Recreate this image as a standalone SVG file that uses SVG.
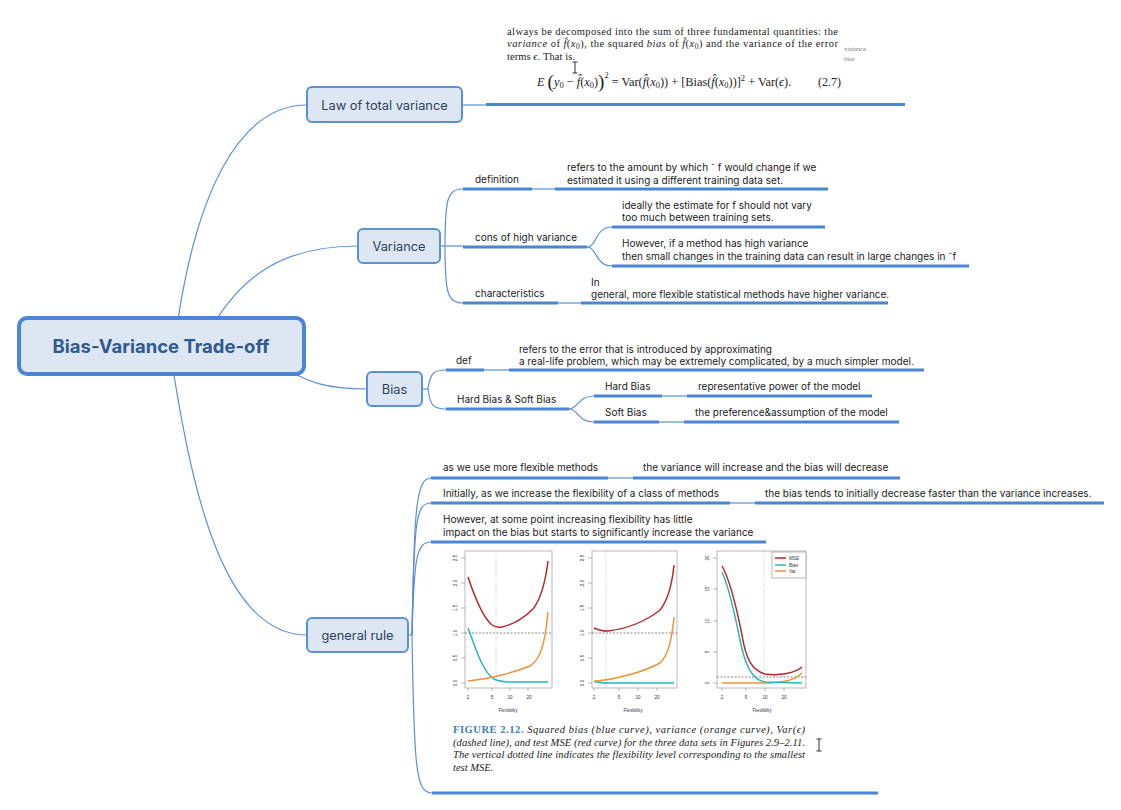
<svg xmlns="http://www.w3.org/2000/svg" width="1121" height="810" viewBox="0 0 1121 810">
<style>
.ln{fill:none;stroke:#5b8fd6;stroke-width:1.2}
.ul{stroke:#4a86d4;stroke-width:3}
.nd{fill:#dde7f3;stroke:#5b8fd6;stroke-width:2}
.nt{font-family:Inter,"Noto Sans",sans-serif;font-size:12.8px;fill:#2d3f5e;text-anchor:middle}
.t{font-family:Inter,"Liberation Sans",sans-serif;font-size:10px;fill:#1a1a1a}
.s{font-family:"Liberation Serif",serif;font-size:10.5px;fill:#222}
.i{font-style:italic}
.ax{fill:none;stroke:#9a9a9a;stroke-width:0.7}
.tk{font-family:"Liberation Sans",sans-serif;font-size:4.6px;fill:#333}
.gr{fill:none;stroke:#aaa;stroke-width:0.6;stroke-dasharray:1 1.2}
.dh{fill:none;stroke:#555;stroke-width:0.7;stroke-dasharray:2 1.5}
.mse{fill:none;stroke:#b5272d;stroke-width:1.5}
.bias{fill:none;stroke:#2ab5b8;stroke-width:1.5}
.var{fill:none;stroke:#f0913a;stroke-width:1.5}
.cur{fill:none;stroke:#333;stroke-width:1}
</style>
<g id="connectors">
<path class="ln" d="M175,340 C195,190 240,105 307,105"/>
<path class="ln" d="M205,340 C240,270 290,246 358,246"/>
<path class="ln" d="M270,360 C310,385 330,389 367,389"/>
<path class="ln" d="M170,350 C190,480 220,635 307,635"/>
<path class="ln" d="M462,105 H486"/>
<path class="ln" d="M440,246 H463"/>
<path class="ln" d="M445,246 C445,200 447,189 463,189"/>
<path class="ln" d="M445,246 C445,292 447,303 463,303"/>
<path class="ln" d="M532,189 H555"/>
<path class="ln" d="M587,247 C597,247 595,227 612,227"/>
<path class="ln" d="M587,247 C597,247 595,266 612,266"/>
<path class="ln" d="M558,303 H581"/>
<path class="ln" d="M422,389 H428"/>
<path class="ln" d="M428,389 C430,373 434,370 446,370"/>
<path class="ln" d="M428,389 C430,406 434,409 446,409"/>
<path class="ln" d="M484,370 H509"/>
<path class="ln" d="M569,409 C578,409 578,396 594,396"/>
<path class="ln" d="M569,409 C578,409 578,422 594,422"/>
<path class="ln" d="M662,396 H687"/>
<path class="ln" d="M659,422 H684"/>
<path class="ln" d="M408,635 H412"/>
<path class="ln" d="M412,635 C414,510 416,478 431,478"/>
<path class="ln" d="M412,635 C414,520 416,503 431,503"/>
<path class="ln" d="M412,635 C414,560 416,542 431,542"/>
<path class="ln" d="M412,635 C414,770 416,793 432,793"/>
<path class="ln" d="M608,478 H633"/>
<path class="ln" d="M730,503 H755"/>
</g>
<g id="root">
<rect x="19" y="318" width="285" height="56" rx="8" fill="#dde7f3" stroke="#4a86d4" stroke-width="4"/>
<text x="161" y="353" font-family="Inter,'Noto Sans',sans-serif" font-size="18.5" font-weight="bold" fill="#2f5a8f" text-anchor="middle">Bias-Variance Trade-off</text>
</g>
<g id="law">
<rect class="nd" x="307" y="87" width="155" height="35" rx="5"/>
<text class="nt" x="384.5" y="109.5">Law of total variance</text>
</g>
<g id="law-detail">
<line class="ul" x1="486" y1="104.5" x2="905" y2="104.5"/>
<text class="s" x="507" y="34.5" textLength="331" lengthAdjust="spacing">always be decomposed into the sum of three fundamental quantities: the</text>
<text class="s" x="507" y="47" textLength="331" lengthAdjust="spacing"><tspan class="i">variance</tspan> of <tspan class="i">f̂</tspan>(<tspan class="i">x</tspan><tspan font-size="7.5" baseline-shift="-2">0</tspan>), the squared <tspan class="i">bias</tspan> of <tspan class="i">f̂</tspan>(<tspan class="i">x</tspan><tspan font-size="7.5" baseline-shift="-2">0</tspan>) and the variance of the error</text>
<text class="s" x="507" y="59.5" textLength="68" lengthAdjust="spacing">terms <tspan class="i">ϵ</tspan>. That is.</text>
<text x="844" y="51" font-family="Liberation Serif,serif" font-size="6.5" fill="#777">variance</text>
<text x="844" y="61" font-family="Liberation Serif,serif" font-size="6.5" fill="#777">bias</text>
<path class="cur" d="M572.5,62 h5 M575,62 v11 M572.5,73 h5"/>
<text class="s" x="537" y="86" style="font-size:12.3px"><tspan class="i">E</tspan> <tspan font-size="19" baseline-shift="-2">(</tspan><tspan class="i">y</tspan><tspan font-size="8.5" baseline-shift="-2">0</tspan> − <tspan class="i">f̂</tspan>(<tspan class="i">x</tspan><tspan font-size="8.5" baseline-shift="-2">0</tspan>)<tspan font-size="19" baseline-shift="-2">)</tspan><tspan font-size="8.5" baseline-shift="8">2</tspan> = Var(<tspan class="i">f̂</tspan>(<tspan class="i">x</tspan><tspan font-size="8.5" baseline-shift="-2">0</tspan>)) + [Bias(<tspan class="i">f̂</tspan>(<tspan class="i">x</tspan><tspan font-size="8.5" baseline-shift="-2">0</tspan>))]<tspan font-size="8.5" baseline-shift="5">2</tspan> + Var(<tspan class="i">ϵ</tspan>).</text>
<text class="s" x="818" y="86" style="font-size:12px">(2.7)</text>
</g>
<g id="variance">
<rect class="nd" x="358" y="229" width="82" height="34" rx="5"/>
<text class="nt" x="399" y="251">Variance</text>
</g>
<g id="var-definition">
<line class="ul" x1="463" y1="189" x2="532" y2="189"/>
<text class="t" x="475" y="183">definition</text>
</g>
<g id="var-definition-text">
<line class="ul" x1="555" y1="189" x2="828" y2="189"/>
<text class="t" x="567" y="171">refers to the amount by which ˆ f would change if we</text>
<text class="t" x="567" y="183.5">estimated it using a different training data set.</text>
</g>
<g id="var-cons">
<line class="ul" x1="463" y1="247" x2="587" y2="247"/>
<text class="t" x="475" y="241">cons of high variance</text>
</g>
<g id="var-cons-1">
<line class="ul" x1="612" y1="227" x2="825" y2="227"/>
<text class="t" x="622" y="209">ideally the estimate for f should not vary</text>
<text class="t" x="622" y="221">too much between training sets.</text>
</g>
<g id="var-cons-2">
<line class="ul" x1="612" y1="266" x2="969" y2="266"/>
<text class="t" x="622" y="247">However, if a method has high variance</text>
<text class="t" x="622" y="259.5">then small changes in the training data can result in large changes in ˆf</text>
</g>
<g id="var-char">
<line class="ul" x1="463" y1="303" x2="558" y2="303"/>
<text class="t" x="475" y="297">characteristics</text>
</g>
<g id="var-char-text">
<line class="ul" x1="581" y1="303" x2="888" y2="303"/>
<text class="t" x="591" y="285.5">In</text>
<text class="t" x="591" y="297.5">general, more flexible statistical methods have higher variance.</text>
</g>
<g id="bias">
<rect class="nd" x="367" y="372" width="55" height="34" rx="5"/>
<text class="nt" x="394.5" y="394">Bias</text>
</g>
<g id="bias-def">
<line class="ul" x1="446" y1="370" x2="484" y2="370"/>
<text class="t" x="456" y="364">def</text>
</g>
<g id="bias-def-text">
<line class="ul" x1="509" y1="370" x2="924" y2="370"/>
<text class="t" x="519" y="352.5">refers to the error that is introduced by approximating</text>
<text class="t" x="519" y="364.5">a real-life problem, which may be extremely complicated, by a much simpler model.</text>
</g>
<g id="bias-hardsoft">
<line class="ul" x1="446" y1="409" x2="569" y2="409"/>
<text class="t" x="457" y="403">Hard Bias &amp; Soft Bias</text>
</g>
<g id="hard-bias">
<line class="ul" x1="594" y1="396" x2="662" y2="396"/>
<text class="t" x="605" y="390">Hard Bias</text>
</g>
<g id="hard-bias-text">
<line class="ul" x1="687" y1="396" x2="872" y2="396"/>
<text class="t" x="698" y="390">representative power of the model</text>
</g>
<g id="soft-bias">
<line class="ul" x1="594" y1="422" x2="659" y2="422"/>
<text class="t" x="605" y="416">Soft Bias</text>
</g>
<g id="soft-bias-text">
<line class="ul" x1="684" y1="422" x2="899" y2="422"/>
<text class="t" x="695" y="416">the preference&amp;assumption of the model</text>
</g>
<g id="general-rule">
<rect class="nd" x="307" y="618" width="101" height="34" rx="5"/>
<text class="nt" x="357.5" y="640">general rule</text>
</g>
<g id="gr-1">
<line class="ul" x1="431" y1="478" x2="608" y2="478"/>
<text class="t" x="443" y="471">as we use more flexible methods</text>
</g>
<g id="gr-1-text">
<line class="ul" x1="633" y1="478" x2="900" y2="478"/>
<text class="t" x="643" y="471">the variance will increase and the bias will decrease</text>
</g>
<g id="gr-2">
<line class="ul" x1="431" y1="503" x2="730" y2="503"/>
<text class="t" x="443" y="497">Initially, as we increase the flexibility of a class of methods</text>
</g>
<g id="gr-2-text">
<line class="ul" x1="755" y1="503" x2="1104" y2="503"/>
<text class="t" x="765" y="497">the bias tends to initially decrease faster than the variance increases.</text>
</g>
<g id="gr-3">
<line class="ul" x1="431" y1="542" x2="766" y2="542"/>
<text class="t" x="443" y="523">However, at some point increasing flexibility has little</text>
<text class="t" x="443" y="536">impact on the bias but starts to significantly increase the variance</text>
</g>
<g id="gr-4-figure">
<line class="ul" x1="432" y1="793" x2="878" y2="793"/>
<rect class="ax" x="465" y="551" width="87" height="137"/>
<path class="ax" d="M461,558 h4 M461,583 h4 M461,608 h4 M461,633 h4 M461,658 h4 M461,683 h4 M468,688 v3 M492,688 v3 M510,688 v3 M528,688 v3"/>
<g class="tk" text-anchor="middle">
<text transform="translate(457,558) rotate(-90)">2.5</text>
<text transform="translate(457,583) rotate(-90)">2.0</text>
<text transform="translate(457,608) rotate(-90)">1.5</text>
<text transform="translate(457,633) rotate(-90)">1.0</text>
<text transform="translate(457,658) rotate(-90)">0.5</text>
<text transform="translate(457,683) rotate(-90)">0.0</text>
<text x="468" y="699">2</text><text x="492" y="699">5</text><text x="510" y="699">10</text><text x="529" y="699">20</text>
<text x="508" y="712">Flexibility</text>
</g>
<line class="gr" x1="496" y1="551" x2="496" y2="688"/>
<line class="dh" x1="465" y1="633" x2="552" y2="633"/>
<path class="mse" d="M468,577 C474,595 482,617 492,625 Q496,628 502,627 C515,624 525,617 533,609 C540,600 545,585 548,561"/>
<path class="bias" d="M468,628 C476,650 483,672 494,679 C500,682 505,682 512,682 L548,682"/>
<path class="var" d="M468,681 C490,679 515,672 530,666 C540,660 545,645 548,612"/>
<rect class="ax" x="592" y="551" width="85" height="137"/>
<path class="ax" d="M588,558 h4 M588,583 h4 M588,608 h4 M588,633 h4 M588,658 h4 M588,683 h4 M594,688 v3 M619,688 v3 M638,688 v3 M657,688 v3"/>
<g class="tk" text-anchor="middle">
<text transform="translate(584,558) rotate(-90)">2.5</text>
<text transform="translate(584,583) rotate(-90)">2.0</text>
<text transform="translate(584,608) rotate(-90)">1.5</text>
<text transform="translate(584,633) rotate(-90)">1.0</text>
<text transform="translate(584,658) rotate(-90)">0.5</text>
<text transform="translate(584,683) rotate(-90)">0.0</text>
<text x="594" y="699">2</text><text x="619" y="699">5</text><text x="638" y="699">10</text><text x="657" y="699">20</text>
<text x="633" y="712">Flexibility</text>
</g>
<line class="gr" x1="606" y1="551" x2="606" y2="688"/>
<line class="dh" x1="592" y1="633" x2="677" y2="633"/>
<path class="mse" d="M594,628 C598,630 602,631 608,631 C625,629 645,622 660,610 C668,600 672,585 674,565"/>
<path class="bias" d="M594,681 C598,683 602,683 610,683 L674,683"/>
<path class="var" d="M594,681.5 C620,679 645,671 660,663 C668,656 672,640 674,617"/>
<rect class="ax" x="717" y="551" width="89" height="137"/>
<path class="ax" d="M713,558 h4 M713,589 h4 M713,621 h4 M713,652 h4 M713,683 h4 M722,688 v3 M746,688 v3 M765,688 v3 M784,688 v3"/>
<g class="tk" text-anchor="middle">
<text transform="translate(709,558) rotate(-90)">20</text>
<text transform="translate(709,589) rotate(-90)">15</text>
<text transform="translate(709,621) rotate(-90)">10</text>
<text transform="translate(709,652) rotate(-90)">5</text>
<text transform="translate(709,683) rotate(-90)">0</text>
<text x="722" y="699">2</text><text x="746" y="699">5</text><text x="765" y="699">10</text><text x="784" y="699">20</text>
<text x="762" y="712">Flexibility</text>
</g>
<line class="gr" x1="764" y1="551" x2="764" y2="688"/>
<line class="dh" x1="717" y1="677" x2="806" y2="677"/>
<path class="var" d="M722,683 L770,683 C785,682 795,680 802,673"/>
<path class="bias" d="M722,572 C728,585 734,610 740,640 C745,665 752,680 765,682 L802,683"/>
<path class="mse" d="M722,566 C730,580 736,605 742,635 C746,660 752,670 765,674 C780,676 795,673 802,667"/>
<rect x="772" y="552" width="34" height="26" fill="#fff" stroke="#888" stroke-width="0.6"/>
<line x1="775" y1="558" x2="786" y2="558" stroke="#b5272d" stroke-width="1.5"/>
<line x1="775" y1="565" x2="786" y2="565" stroke="#2ab5b8" stroke-width="1.5"/>
<line x1="775" y1="571" x2="786" y2="571" stroke="#f0913a" stroke-width="1.5"/>
<g class="tk"><text x="789" y="559.5">MSE</text><text x="789" y="566.5">Bias</text><text x="789" y="572.5">Var</text></g>
<text class="s" x="453" y="733" textLength="352" lengthAdjust="spacing"><tspan font-weight="bold" fill="#3a7cc0">FIGURE 2.12.</tspan> <tspan class="i">Squared bias (blue curve), variance (orange curve), Var(ϵ)</tspan></text>
<text class="s i" x="453" y="745.5" textLength="352" lengthAdjust="spacing">(dashed line), and test MSE (red curve) for the three data sets in Figures 2.9–2.11.</text>
<text class="s i" x="453" y="758" textLength="352" lengthAdjust="spacing">The vertical dotted line indicates the flexibility level corresponding to the smallest</text>
<text class="s i" x="453" y="770.5">test MSE.</text>
<path class="cur" d="M816.5,739 h5 M819,739 v12 M816.5,751 h5"/>
</g>
</svg>
